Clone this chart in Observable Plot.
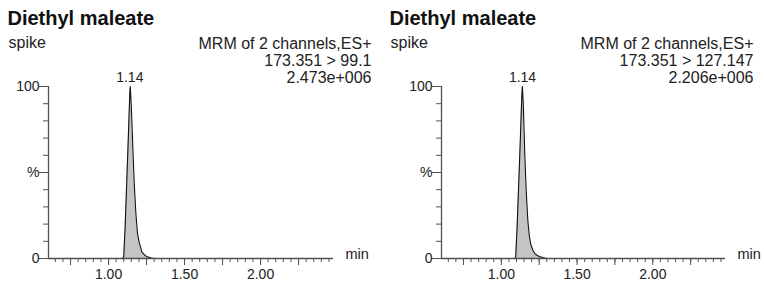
<!DOCTYPE html>
<html>
<head>
<meta charset="utf-8">
<script src="https://cdn.jsdelivr.net/npm/d3@7"></script>
<script src="https://cdn.jsdelivr.net/npm/@observablehq/plot@0.6"></script>
<style>
  body { margin: 0; background: #fff; }
  #wrap { display: flex; width: 764px; height: 286px; }
  #wrap svg { display: block; }
</style>
</head>
<body>
<div id="wrap"></div>
<script>
// ---- data ----
const titles = ["Diethyl maleate", "Diethyl maleate"];
const sampleNames = ["spike", "spike"];
const functionInfo = ["MRM of 2 channels,ES+", "MRM of 2 channels,ES+"];
const transitions = ["173.351 > 99.1", "173.351 > 127.147"];
const intensities = ["2.473e+006", "2.206e+006"];
const peakLabels = [1.14, 1.14];

const time1 = [0.61, 1.09, 1.10, 1.11, 1.12, 1.13, 1.14, 1.143, 1.15, 1.16, 1.17, 1.18, 1.19, 1.20, 1.22, 1.24, 1.26, 1.28, 1.30, 2.47];
const pct1  = [0,    0,    1,    20,   45,   70,   96,   100,   88,   64,   42,   26,   15,   10,   3.7,  1.8,  0.8,  0.3,  0,    0];
const time2 = [0.61, 1.09, 1.095, 1.105, 1.115, 1.125, 1.135, 1.139, 1.145, 1.155, 1.165, 1.175, 1.185, 1.195, 1.21, 1.225, 1.25, 1.28, 1.30, 2.47];
const pct2  = [0,    0,    1,     20,    44,    68,    94,    100,   90,    60,    38,    22,    13,    8,     4.5,  2.5,   1.2,  0.4,  0,    0];

const xDomain = [0.605, 2.48];
const xMinor = d3.range(13, 50).map(i => i * 0.05);       // 0.65 .. 2.45
const xMajor = [0.75, 1.00, 1.25, 1.50, 1.75, 2.00, 2.25];
const xLabels = [1.00, 1.50, 2.00];
const yMinor = [10, 20, 30, 40, 60, 70, 80, 90];
const yMajor = [0, 50, 100];

const FONT = "'Liberation Sans', Arial, Helvetica, sans-serif";
const INK = "#222";
const AX = "#505050";

function panel(i, times, pcts, mLeft, mRight) {
  const data = times.map((t, k) => ({t, p: pcts[k]}));
  return Plot.plot({
    width: 382,
    height: 286,
    marginLeft: mLeft,
    marginRight: mRight,
    marginTop: 86,
    marginBottom: 28,
    style: {fontFamily: FONT, color: INK, background: "#fff"},
    x: {domain: xDomain, label: null},
    y: {domain: [0, 100], label: null},
    marks: [
      Plot.areaY(data, {x: "t", y: "p", fill: "#c4c4c4"}),
      Plot.lineY(data, {x: "t", y: "p", stroke: "#111", strokeWidth: 1.1}),
      // axis lines
      Plot.ruleY([0], {x1: xDomain[0], x2: xDomain[1], stroke: AX, strokeWidth: 1.3}),
      Plot.ruleX([xDomain[0]], {y1: 0, y2: 100, stroke: AX, strokeWidth: 1.3}),
      // x ticks
      Plot.axisX({ticks: xMinor, tickSize: 4, tickFormat: () => "", stroke: AX, label: null}),
      Plot.axisX({ticks: xMajor, tickSize: 7, tickFormat: () => "", stroke: AX, label: null}),
      Plot.axisX({ticks: xLabels, tickSize: 0, tickPadding: 11, tickFormat: d3.format(".2f"), fontSize: 14, fill: INK, label: null}),
      // y ticks
      Plot.axisY({ticks: yMinor, tickSize: 5, tickFormat: () => "", stroke: AX, label: null}),
      Plot.axisY({ticks: yMajor, tickSize: 9, tickPadding: 0, tickFormat: d => d === 50 ? "%" : String(d), fontSize: 14, fill: INK, stroke: AX, label: null}),
      // "min" unit
      Plot.text(["min"], {text: d => d, frameAnchor: "bottom-right", dx: 12, textAnchor: "start", fontSize: 14.5, fill: INK}),
      // peak label
      Plot.text([peakLabels[i]], {x: d => d, y: () => 100, text: d => d3.format(".2f")(d), dy: -5, lineAnchor: "bottom", fontSize: 14, fill: INK}),
      // header texts
      Plot.text([titles[i]], {text: d => d, frameAnchor: "top-left", dx: 7 - mLeft, dy: -62, lineAnchor: "bottom", textAnchor: "start", fontSize: 20, fontWeight: "bold", fill: "#111"}),
      Plot.text([sampleNames[i]], {text: d => d, frameAnchor: "top-left", dx: 8 - mLeft, dy: -39, lineAnchor: "bottom", textAnchor: "start", fontSize: 16, fill: INK}),
      Plot.text([functionInfo[i] + "\n" + transitions[i] + "\n" + intensities[i]], {text: d => d, frameAnchor: "top-right", dx: 371 - (382 - mRight), dy: -50, lineAnchor: "top", textAnchor: "end", lineHeight: 1.08, fontSize: 16, fill: INK})
    ]
  });
}

const wrap = document.getElementById("wrap");
wrap.appendChild(panel(0, time1, pct1, 48, 49));
wrap.appendChild(panel(1, time2, pct2, 59, 39));
</script>
</body>
</html>
